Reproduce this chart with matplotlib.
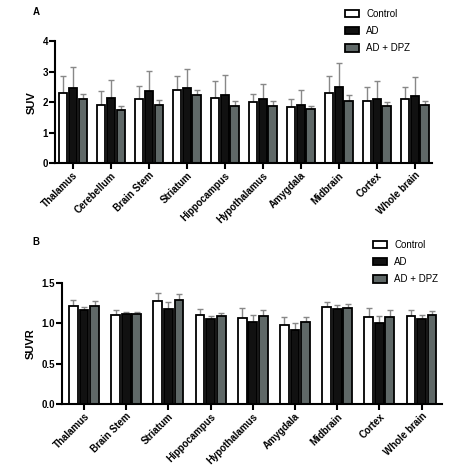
import matplotlib
matplotlib.use("Agg")
import matplotlib.pyplot as plt
import numpy as np
from matplotlib.patches import Patch

plt.rcParams['font.family'] = ['Liberation Sans', 'DejaVu Sans']
plt.rcParams['font.weight'] = 'bold'

groups = ["Control", "AD", "AD + DPZ"]
colors = ["white", "#111111", "#5f6867"]

# panel A - SUV
regions_a = ["Thalamus", "Cerebellum", "Brain Stem", "Striatum", "Hippocampus",
             "Hypothalamus", "Amygdala", "Midbrain", "Cortex", "Whole brain"]
suv_control = [2.31, 1.90, 2.11, 2.41, 2.12, 2.00, 1.84, 2.30, 2.05, 2.09]
suv_ad = [2.45, 2.12, 2.36, 2.46, 2.23, 2.11, 1.92, 2.48, 2.11, 2.20]
suv_dpz = [2.10, 1.74, 1.92, 2.22, 1.88, 1.89, 1.76, 2.05, 1.87, 1.91]
suv_control_err = [0.54, 0.46, 0.43, 0.44, 0.56, 0.26, 0.25, 0.56, 0.44, 0.42]
suv_ad_err = [0.71, 0.62, 0.67, 0.64, 0.65, 0.49, 0.47, 0.79, 0.59, 0.62]
suv_dpz_err = [0.18, 0.12, 0.16, 0.18, 0.17, 0.14, 0.12, 0.18, 0.15, 0.14]

# panel B - SUVR
regions_b = ["Thalamus", "Brain Stem", "Striatum", "Hippocampus", "Hypothalamus",
             "Amygdala", "Midbrain", "Cortex", "Whole brain"]
suvr_control = [1.21, 1.10, 1.27, 1.10, 1.065, 0.98, 1.20, 1.08, 1.09]
suvr_ad = [1.16, 1.11, 1.17, 1.05, 1.01, 0.92, 1.17, 1.00, 1.045]
suvr_dpz = [1.21, 1.11, 1.28, 1.09, 1.09, 1.01, 1.18, 1.08, 1.10]
suvr_control_err = [0.08, 0.06, 0.10, 0.07, 0.115, 0.10, 0.06, 0.10, 0.07]
suvr_ad_err = [0.04, 0.03, 0.09, 0.04, 0.09, 0.08, 0.05, 0.09, 0.055]
suvr_dpz_err = [0.06, 0.03, 0.08, 0.04, 0.07, 0.06, 0.05, 0.08, 0.05]


def draw_panel(ax, regions, vals, errs, width, step, ylim, yticks, ylabel, xlim):
    x = np.arange(len(regions))
    for i in range(3):
        ax.bar(x + (i - 1) * step, vals[i], width, color=colors[i],
               edgecolor="black", linewidth=1.3, zorder=2,
               yerr=[np.zeros(len(regions)), errs[i]],
               error_kw=dict(ecolor="#888888", elinewidth=1.0, capsize=2, capthick=1.0, zorder=1))
    ax.set_xlim(xlim)
    ax.set_ylim(ylim)
    ax.set_yticks(yticks)
    ax.set_xticks(x)
    ax.set_xticklabels(regions, rotation=45, ha="right", rotation_mode="anchor", fontsize=7)
    ax.set_ylabel(ylabel, fontsize=8, fontweight="bold")
    for s in ["top", "right"]:
        ax.spines[s].set_visible(False)
    for s in ["left", "bottom"]:
        ax.spines[s].set_linewidth(1.5)
    ax.tick_params(width=1.5, length=4, labelsize=7, pad=1)


fig = plt.figure(figsize=(4.74, 4.74), dpi=100)

axA = fig.add_axes([0.116, 0.6555, 0.795, 0.258])
draw_panel(axA, regions_a, [suv_control, suv_ad, suv_dpz],
           [suv_control_err, suv_ad_err, suv_dpz_err],
           0.22, 0.26, (0, 4), [0, 1, 2, 3, 4], "SUV", (-0.47, 9.45))
axA.set_yticklabels(["0", "1", "2", "3", "4"])

axB = fig.add_axes([0.131, 0.147, 0.801, 0.257])
draw_panel(axB, regions_b, [suvr_control, suvr_ad, suvr_dpz],
           [suvr_control_err, suvr_ad_err, suvr_dpz_err],
           0.21, 0.25, (0, 1.5), [0, 0.5, 1.0, 1.5], "SUVR", (-0.52, 8.48))
axB.set_yticklabels(["0.0", "0.5", "1.0", "1.5"])

fig.text(33 / 474, 1 - 12 / 474, "A", fontsize=7, fontweight="bold", va="center")
fig.text(32 / 474, 1 - 242 / 474, "B", fontsize=7, fontweight="bold", va="center")

handles = [Patch(facecolor=c, edgecolor="black", linewidth=1.3) for c in colors]
for (lx, ly) in [(340 / 474, 1 - 4 / 474), (368 / 474, 1 - 235 / 474)]:
    fig.legend(handles, groups, loc="upper left", bbox_to_anchor=(lx, ly),
               frameon=False, fontsize=7, handlelength=1.5, handleheight=0.8,
               labelspacing=0.75, borderpad=0, handletextpad=0.7,
               prop={"weight": "normal", "size": 7})

fig.savefig("out.png", dpi=100)
